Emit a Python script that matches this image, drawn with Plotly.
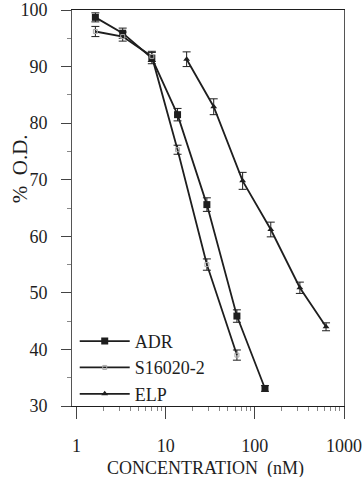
import plotly.graph_objects as go

# concentrations (nM)
adr_x = [1.63, 3.3, 7.0, 13.6, 29, 63, 130]
adr_y = [98.7, 95.9, 91.5, 81.5, 65.6, 45.9, 33.1]
adr_e = [0.8, 0.9, 1.0, 1.1, 1.2, 1.1, 0.5]

s_x = [1.63, 3.3, 7.0, 13.6, 29, 63]
s_y = [96.2, 95.3, 91.8, 75.3, 55.0, 39.0]
s_e = [0.9, 0.8, 0.9, 0.8, 1.0, 0.9]

elp_x = [17.2, 34.6, 73, 151, 320, 629]
elp_y = [91.3, 82.9, 69.8, 61.2, 50.9, 44.0]
elp_e = [1.3, 1.4, 1.5, 1.3, 1.0, 0.7]

x_ticks = [1, 10, 100, 1000]
x_minor = [m * d for d in (1, 10, 100) for m in range(2, 10)]
y_ticks = [30, 40, 50, 60, 70, 80, 90, 100]

INK = "#1e1e1e"
FONT = "Liberation Serif"

fig = go.Figure()
fig.add_trace(go.Scatter(
    x=adr_x, y=adr_y, name="ADR", mode="lines+markers",
    line=dict(color=INK, width=1.8),
    marker=dict(symbol="square", size=7, color=INK),
    error_y=dict(type="data", array=adr_e, color=INK, thickness=1, width=4),
))
fig.add_trace(go.Scatter(
    x=s_x, y=s_y, name="S16020-2", mode="lines+markers",
    line=dict(color=INK, width=1.8),
    marker=dict(symbol="square-open", size=4, color="#aaaaaa", line=dict(width=1)),
    error_y=dict(type="data", array=s_e, color=INK, thickness=1, width=4),
))
fig.add_trace(go.Scatter(
    x=elp_x, y=elp_y, name="ELP", mode="lines+markers",
    line=dict(color=INK, width=1.8),
    marker=dict(symbol="triangle-up", size=6, color=INK),
    error_y=dict(type="data", array=elp_e, color=INK, thickness=1, width=4),
))

fig.update_layout(
    width=363, height=477,
    margin=dict(l=72, r=19, t=10, b=71),
    paper_bgcolor="white", plot_bgcolor="white",
    font=dict(family=FONT, color=INK, size=15),
    showlegend=True,
    legend=dict(x=0.01, y=0.21, xanchor="left", yanchor="top",
                bgcolor="rgba(0,0,0,0)", font=dict(size=18, family=FONT),
                itemwidth=50, tracegroupgap=0),
    annotations=[
        dict(text="CONCENTRATION  (nM)", xref="paper", yref="paper",
             x=0.49, y=-0.158, xanchor="center", yanchor="middle",
             showarrow=False, font=dict(size=18, family=FONT, color=INK)),
        dict(text="%  O.D.", xref="paper", yref="paper", textangle=-90,
             x=-0.191, y=0.598, xanchor="center", yanchor="middle",
             showarrow=False, font=dict(size=21, family=FONT, color=INK)),
    ],
)
fig.update_xaxes(
    type="log", range=[-0.05, 3.0], automargin=False,
    tickvals=x_ticks, ticktext=[str(v) for v in x_ticks],
    ticks="outside", ticklen=12, tickcolor="#444444",
    ticklabelstandoff=11, ticklabeloverflow="allow",
    showline=True, linecolor=INK, linewidth=1.2, mirror=True,
    showgrid=False, zeroline=False,
    tickfont=dict(size=18, family=FONT),
    minor=dict(tickvals=x_minor, ticks="outside", ticklen=4, tickcolor="#888888", showgrid=False),
)
fig.update_yaxes(
    range=[30, 100], automargin=False,
    tickvals=y_ticks,
    ticks="outside", ticklen=10, tickcolor="#444444",
    ticklabelstandoff=10, ticklabeloverflow="allow",
    showline=True, linecolor="#555555", linewidth=1, mirror=True,
    showgrid=False, zeroline=False,
    tickfont=dict(size=18, family=FONT),
    minor=dict(dtick=5, ticks="outside", ticklen=4, tickcolor="#888888", showgrid=False),
)

fig.write_html("out.html")
